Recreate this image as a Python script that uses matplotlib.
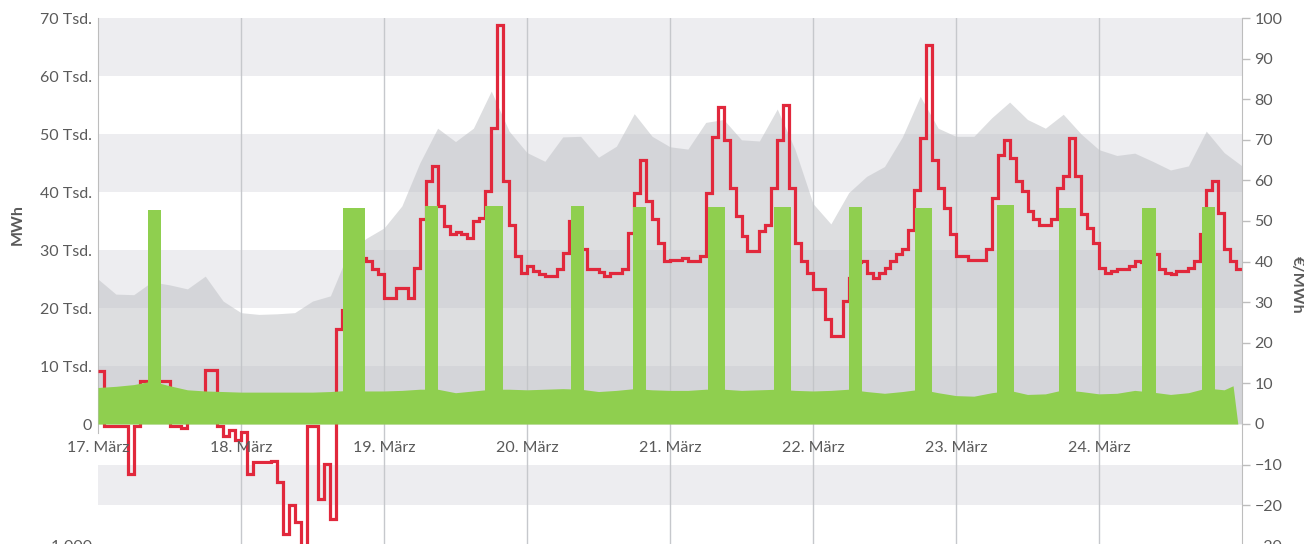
import matplotlib
matplotlib.use("Agg")
import matplotlib.pyplot as plt

plt.rcParams["font.family"] = ["Lato", "DejaVu Sans"]

# hourly price (EUR/MWh), one list per day, 17.-24. März
price_17 = [13, -0.5, -0.5, -0.5, -0.5, -12.3, -0.5, 10.5, 10.5, 10.5, 10.5, 10.5,
            -0.5, -0.5, -1, 5, 5, 5, 13.3, 13.3, -0.4, -2.9, -1.5, -4]
price_18 = [-2, -12.3, -9.4, -9.4, -9.4, -9, -14.3, -27, -20, -24.2, -33, -0.4,
            -0.4, -18.4, -9.8, -23.3, 23.3, 28, 35, 40, 41, 40.1, 38.1, 36.9]
price_19 = [31.1, 31.1, 33.6, 33.6, 31.1, 38.5, 50.4, 59.8, 63.5, 53.6, 48.7, 46.7,
            47.2, 46.7, 45.9, 50, 50.8, 57.3, 72.9, 98.3, 59.8, 49.1, 41.4, 37.3]
price_20 = [38.9, 37.7, 36.9, 36.5, 36.4, 38.1, 42.2, 50, 52, 43, 38.1, 38.1,
            37.5, 36.4, 37.3, 37.3, 38.1, 47.1, 56.9, 65.1, 54.9, 50.4, 44.6, 40.1]
price_21 = [40.5, 40.5, 41, 40.1, 40.1, 41.4, 56.9, 70.8, 78.2, 70, 58.1, 51.2,
            46.3, 42.6, 42.6, 47.5, 49.1, 58.1, 70, 78.6, 58.1, 44.6, 40.1, 37.3]
price_22 = [33.2, 33.2, 25.8, 21.7, 21.7, 30.3, 36, 40, 40.1, 37.3, 36, 37.3,
            38.5, 40.1, 41.8, 43, 47.9, 57.7, 70.4, 93.4, 65.1, 58.1, 53.2, 46.7]
price_23 = [41.4, 41.4, 40.5, 40.5, 40.5, 43, 55.7, 66.3, 70, 65.5, 59.8, 57.3,
            52.4, 50.4, 49.1, 49.1, 50.4, 58.1, 61, 70.4, 61, 51.6, 48.3, 44.6]
price_24 = [38.5, 37.3, 37.7, 38.1, 38.1, 38.9, 40.1, 40, 40, 41.8, 38.1, 37.3,
            36.9, 37.7, 37.7, 38.5, 40.1, 46.7, 57.7, 59.8, 52, 43, 40.1, 38.1]
price = price_17 + price_18 + price_19 + price_20 + price_21 + price_22 + price_23 + price_24
price_edges = list(range(0, 193))

# total generation (Tsd. MWh), every 3 hours
gen_hours = list(range(0, 193, 3))
gen_total = [25.0, 22.4, 22.3, 24.5, 24.0, 23.3, 25.5, 21.2, 19.2, 18.9, 19.0, 19.2,
             21.2, 22.1, 29.5, 32.0, 33.8, 37.6, 45.0, 51.0, 48.7, 51.0, 57.4, 50.5,
             46.8, 45.3, 49.5, 49.6, 46.0, 47.9, 53.5, 49.6, 47.8, 47.4, 52.0, 52.5,
             49.0, 48.8, 54.3, 47.3, 38.0, 34.5, 39.9, 42.7, 44.4, 49.5, 56.5, 51.0,
             49.6, 49.6, 52.8, 55.5, 52.5, 51.0, 53.4, 50.0, 47.3, 46.3, 46.7, 45.3,
             43.8, 44.5, 50.5, 46.8, 44.5]

# green base (Tsd. MWh)
green_hours = list(range(0, 190, 3)) + [190.5, 191.3]
green_base = [6.3, 6.5, 6.8, 7.4, 6.6, 5.9, 5.7, 5.6, 5.5, 5.5, 5.5, 5.5,
              5.5, 5.6, 5.8, 5.7, 5.7, 5.8, 6.0, 6.0, 5.4, 5.7, 6.0, 6.0,
              5.9, 6.0, 6.1, 6.0, 5.6, 5.8, 6.1, 5.9, 5.8, 5.8, 6.0, 6.0,
              5.8, 5.9, 6.0, 5.8, 5.7, 5.8, 6.0, 5.6, 5.3, 5.6, 6.0, 5.4,
              4.9, 4.8, 5.4, 5.8, 5.1, 5.2, 5.9, 5.6, 5.2, 5.3, 5.8, 5.5,
              5.1, 5.4, 6.2, 5.9, 6.6, 0.0]

# green spikes: start hour, end hour, height (Tsd. MWh)
spike_start = [8.4, 41.1, 54.8, 64.9, 79.4, 89.8, 102.3, 113.4, 126.0, 137.1, 150.8, 161.3, 175.3, 185.3]
spike_end = [10.6, 44.8, 57.0, 67.9, 81.5, 92.0, 105.2, 116.3, 128.3, 140.0, 153.8, 164.1, 177.6, 187.5]
spike_height = [36.9, 37.3, 37.6, 37.6, 37.6, 37.4, 37.4, 37.4, 37.4, 37.3, 37.7, 37.3, 37.3, 37.4]

day_hours = [0, 24, 48, 72, 96, 120, 144, 168]
day_labels = ["17. März", "18. März", "19. März", "20. März",
              "21. März", "22. März", "23. März", "24. März"]

left_ticks = [-21, 0, 10, 20, 30, 40, 50, 60, 70]
left_labels = ["-1.000", "0", "10 Tsd.", "20 Tsd.", "30 Tsd.", "40 Tsd.",
               "50 Tsd.", "60 Tsd.", "70 Tsd."]
right_ticks = [-30, -20, -10, 0, 10, 20, 30, 40, 50, 60, 70, 80, 90, 100]

bands = [(60, 70), (40, 50), (20, 30), (0, 10), (-14, -7)]

RED = "#e1283c"
GREEN = "#8fcf4f"
TXT = "#5a5a5a"

fig = plt.figure(figsize=(13.04, 5.44), dpi=100)
ax = fig.add_axes([98 / 1304, -3 / 544, 1144 / 1304, 529 / 544])
ax2 = ax.twinx()

ax.set_xlim(0, 192)
ax.set_ylim(-21.2, 70)
ax2.set_ylim(-30.3, 100)

# background stripes and day lines
for lo, hi in bands:
    ax.axhspan(lo, hi, color="#ededf0", lw=0, zorder=0)
for h in day_hours[1:]:
    ax.axvline(h, color="#c6c8cc", lw=1, zorder=0.5)

# generation area
ax.fill_between(gen_hours, 0, gen_total, color="#c1c3c7", alpha=0.55, lw=0, zorder=1)

# price as steps (drawn on the left axes, in right-axis units)
ax.stairs(price, price_edges, color=RED, lw=2.3, baseline=None,
          transform=ax2.transData, zorder=3)

# green base and spikes on top
ax.fill_between(green_hours, 0, green_base, color=GREEN, lw=0, zorder=4)
ax.bar(spike_start, spike_height,
       width=[e - s for s, e in zip(spike_start, spike_end)],
       align="edge", color=GREEN, lw=0, zorder=4)

# axes styling
for s in ["top", "bottom", "right"]:
    ax.spines[s].set_visible(False)
ax.spines["left"].set_color("#bdbdbd")
ax.spines["left"].set_bounds(-1.5, 70)
for s in ["top", "bottom", "left"]:
    ax2.spines[s].set_visible(False)
ax2.spines["right"].set_color("#bdbdbd")

ax.set_xticks([])
ax.set_yticks(left_ticks)
ax.set_yticklabels(left_labels)
ax.tick_params(axis="y", length=0, pad=4.5, labelsize=11.5, labelcolor=TXT)

ax2.set_yticks(right_ticks)
ax2.tick_params(axis="y", length=6, width=1, color="#bdbdbd", pad=3,
                labelsize=11.5, labelcolor=TXT)

for h, lab in zip(day_hours, day_labels):
    ax.annotate(lab, (h, 0), xytext=(0, -17), textcoords="offset points",
                ha="center", va="center", fontsize=11.5, color=TXT)

fig.text(18 / 1304, 1 - 225 / 544, "MWh", rotation=90, ha="center", va="center",
         fontsize=11.5, fontweight="bold", color=TXT)
fig.text(1297 / 1304, 1 - 285 / 544, "€/MWh", rotation=270, ha="center", va="center",
         fontsize=11.5, fontweight="bold", color=TXT)

fig.savefig("out.png", dpi=100)
